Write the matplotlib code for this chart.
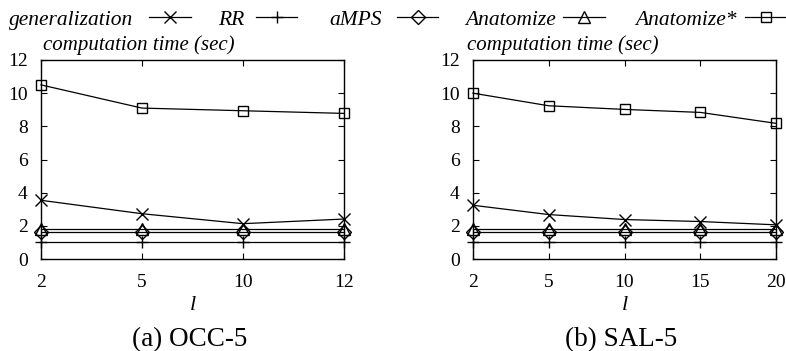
import matplotlib
matplotlib.use("Agg")
import matplotlib.pyplot as plt
from matplotlib.lines import Line2D

plt.rcParams['font.family'] = ['Liberation Serif', 'DejaVu Serif']

# panel (a) OCC-5
occ_l = ['2', '5', '10', '12']
occ_gen = [3.54, 2.73, 2.13, 2.41]
occ_rr = [1.04, 1.04, 1.04, 1.04]
occ_amps = [1.6, 1.6, 1.6, 1.6]
occ_anat = [1.8, 1.8, 1.8, 1.8]
occ_anat_star = [10.5, 9.1, 8.94, 8.78]

# panel (b) SAL-5
sal_l = ['2', '5', '10', '15', '20']
sal_gen = [3.24, 2.68, 2.38, 2.26, 2.06]
sal_rr = [1.04, 1.04, 1.04, 1.04, 1.04]
sal_amps = [1.6, 1.6, 1.6, 1.6, 1.6]
sal_anat = [1.8, 1.8, 1.8, 1.8, 1.8]
sal_anat_star = [10.0, 9.24, 9.02, 8.84, 8.18]

names = ['generalization', 'RR', 'aMPS', 'Anatomize', 'Anatomize*']
markers = ['x', '+', 'D', '^', 's']
msizes = [8, 9, 7, 8.5, 7.7]

W, H = 786, 351
fig = plt.figure(figsize=(W / 100, H / 100), dpi=100)
axa = fig.add_axes([41 / W, 1 - 259 / H, 303 / W, 199 / H])
axb = fig.add_axes([473 / W, 1 - 259 / H, 303 / W, 199 / H])


def draw(ax, cats, series, caption, ylab_x):
    xs = range(len(cats))
    for vals, m, ms in zip(series, markers, msizes):
        ax.plot(xs, vals, color='black', lw=0.9, marker=m, ms=ms,
                mfc='none', mec='black', mew=1.0, clip_on=False)
    ax.set_xlim(0, len(cats) - 1)
    ax.set_ylim(0, 12)
    ax.set_xticks(list(xs))
    ax.set_xticklabels(cats)
    ax.set_yticks(range(0, 13, 2))
    ax.tick_params(direction='in', top=True, right=True, labelsize=14,
                   length=4)
    ax.tick_params(axis='x', pad=11)
    ax.tick_params(axis='y', pad=9.5)
    for s in ax.spines.values():
        s.set_linewidth(1.0)
    # axis labels and caption placed in pixels
    box = ax.get_position()
    cx = (box.x0 + box.x1) / 2
    fig.text(cx, 1 - 310 / H, 'l', fontstyle='italic', fontsize=16,
             ha='center', va='baseline')
    fig.text(ylab_x / W, 1 - 50 / H, 'computation time (sec)',
             fontstyle='italic', fontsize=15, ha='left', va='baseline')
    fig.text(cx - 3 / W, 1 - 346 / H, caption, fontsize=19.5,
             ha='center', va='baseline')


draw(axa, occ_l, [occ_gen, occ_rr, occ_amps, occ_anat, occ_anat_star], '(a) OCC-5', 43)
draw(axb, sal_l, [sal_gen, sal_rr, sal_amps, sal_anat, sal_anat_star], '(b) SAL-5', 467)

# gnuplot-style key: right-aligned text followed by a short sample line
text_right = [133, 244, 382, 556, 737]
sample_x = [(149, 191), (256, 297), (397, 438), (563, 605), (745, 786)]
for name, m, ms, tr, (x0, x1) in zip(names, markers, msizes, text_right, sample_x):
    fig.text(tr / W, 1 - 25 / H, name, fontstyle='italic', fontsize=15.5,
             ha='right', va='baseline')
    y = 1 - 17 / H
    fig.add_artist(Line2D([x0 / W, x1 / W], [y, y], color='black', lw=0.9))
    fig.add_artist(Line2D([(x0 + x1) / 2 / W], [y], marker=m, ms=ms, mfc='none',
                          mec='black', mew=1.0, ls='none'))

fig.savefig('out.png', dpi=100)
